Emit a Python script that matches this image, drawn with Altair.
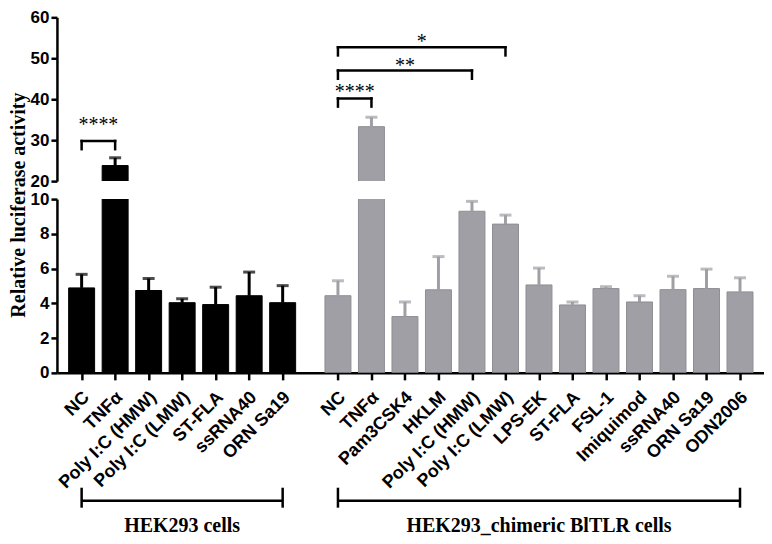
import altair as alt
import pandas as pd

# ---------------- data ----------------
hek_labels = ["NC", "TNFα", "Poly I:C (HMW)", "Poly I:C (LMW)", "ST-FLA", "ssRNA40", "ORN Sa19"]
hek_means = [4.89, 23.8, 4.74, 4.04, 3.93, 4.44, 4.04]
hek_upper = [5.67, 25.7, 5.43, 4.27, 4.93, 5.80, 5.02]

chim_labels = ["NC", "TNFα", "Pam3CSK4", "HKLM", "Poly I:C (HMW)", "Poly I:C (LMW)", "LPS-EK",
               "ST-FLA", "FSL-1", "Imiquimod", "ssRNA40", "ORN Sa19", "ODN2006"]
chim_means = [4.44, 33.3, 3.24, 4.78, 9.30, 8.56, 5.06, 3.91, 4.85, 4.08, 4.79, 4.85, 4.66]
chim_upper = [5.30, 35.6, 4.08, 6.69, 9.87, 9.08, 6.03, 4.08, 4.96, 4.44, 5.56, 5.97, 5.47]

group_names = ["HEK293 cells", "HEK293_chimeric BlTLR cells"]

# significance brackets: group, from-bar, to-bar, bracket level, stars, star level
sig_group = [0, 1, 1, 1]
sig_from = [0, 0, 0, 0]
sig_to = [1, 1, 4, 5]
sig_level = [29.8, 40.2, 47.0, 52.7]
sig_text = ["****", "****", "**", "*"]
sig_text_y = [34.4, 42.4, 48.9, 54.8]

y_title = "Relative luciferase activity"

# ---------------- layout constants ----------------
GROUP_OFFSET = [0.0, 7.65]
W = 708
H1 = 164
H2 = 174
BLACK = "#000000"
GRAY = "#a09fa5"
GRAY_EDGE = "#8f8e94"

rows = []
for g, (labs, means, ups) in enumerate([(hek_labels, hek_means, hek_upper),
                                        (chim_labels, chim_means, chim_upper)]):
    for i, (l, m, u) in enumerate(zip(labs, means, ups)):
        rows.append({"pos": GROUP_OFFSET[g] + i, "label": l, "mean": m, "upper": u,
                     "group": group_names[g]})
bars = pd.DataFrame(rows)

def gpos(g, i):
    return GROUP_OFFSET[g] + i

seg = []
stars = []
for g, a, b, lev, t, ty in zip(sig_group, sig_from, sig_to, sig_level, sig_text, sig_text_y):
    x1, x2 = gpos(g, a), gpos(g, b)
    seg.append({"pos": x1, "pos2": x2, "y": lev, "y2": lev})
    seg.append({"pos": x1, "pos2": x1, "y": lev, "y2": lev - 2.0})
    seg.append({"pos": x2, "pos2": x2, "y": lev, "y2": lev - 2.0})
    stars.append({"pos": (x1 + x2) / 2, "y": ty, "t": t})
seg = pd.DataFrame(seg)
stars = pd.DataFrame(stars)

nlab = [len(hek_labels), len(chim_labels)]
grp = pd.DataFrame([{"pos": gpos(g, 0), "pos2": gpos(g, nlab[g] - 1),
                     "mid": (gpos(g, 0) + gpos(g, nlab[g] - 1)) / 2, "name": group_names[g]}
                    for g in range(2)])
grp_ends = pd.DataFrame([{"pos": p} for p in list(grp["pos"]) + list(grp["pos2"])])

xscale = alt.Scale(domain=[-0.588, 20.217], nice=False, zero=False)
color = alt.Color("group:N", scale=alt.Scale(domain=group_names, range=[BLACK, GRAY]), legend=None)
stroke = alt.Stroke("group:N", scale=alt.Scale(domain=group_names, range=[BLACK, GRAY_EDGE]), legend=None)

axis_common = dict(grid=False, domainColor="black", tickColor="black", labelColor="black",
                   domainWidth=2.5, tickWidth=2.5, tickSize=6, labelFont="Liberation Sans",
                   labelFontWeight="bold", labelFontSize=17, labelPadding=2, title=None)

# ---------------- upper panel (20-60) ----------------
yU = alt.Scale(domain=[20, 60], nice=False, zero=False)
yU_axis = alt.Axis(values=[20, 30, 40, 50, 60], **axis_common)
xU = alt.X("pos:Q", scale=xscale, axis=None)

up_bars = alt.Chart(bars).transform_filter("datum.mean > 20").mark_bar(size=26, clip=True, strokeWidth=1).encode(
    x=xU, y=alt.Y("mean:Q", scale=yU, axis=yU_axis), color=color, stroke=stroke)
up_err = alt.Chart(bars).transform_filter("datum.mean > 20").mark_rule(strokeWidth=3).encode(
    x=xU, y=alt.Y("mean:Q", scale=yU, axis=yU_axis), y2="upper:Q", color=color)
up_cap = alt.Chart(bars).transform_filter("datum.mean > 20").mark_tick(orient="horizontal", size=12, thickness=3).encode(
    x=xU, y=alt.Y("upper:Q", scale=yU, axis=yU_axis), color=color)
up_seg = alt.Chart(seg).mark_rule(strokeWidth=2.5, color="black", strokeCap="square").encode(
    x=xU, x2="pos2:Q", y=alt.Y("y:Q", scale=yU, axis=yU_axis), y2="y2:Q")
up_txt = alt.Chart(stars).mark_text(font="Liberation Serif", fontSize=20, baseline="alphabetic",
                                    dy=9, color="black").encode(
    x=xU, y=alt.Y("y:Q", scale=yU, axis=yU_axis), text="t:N")

upper = alt.layer(up_bars, up_err, up_cap, up_seg, up_txt).properties(width=W, height=H1)

# ---------------- lower panel (0-10) ----------------
yL = alt.Scale(domain=[0, 10], nice=False, zero=False)
yL_axis = alt.Axis(values=[0, 2, 4, 6, 8, 10], **axis_common)
xL_axis = alt.Axis(values=list(bars["pos"]), labels=False, grid=False, domainColor="black",
                   tickColor="black", domainWidth=2.5, tickWidth=2.5, tickSize=7, title=None)
xL = alt.X("pos:Q", scale=xscale, axis=xL_axis)

lo_bars = alt.Chart(bars).mark_bar(size=26, clip=True, strokeWidth=1).encode(
    x=xL, y=alt.Y("mean:Q", scale=yL, axis=yL_axis), color=color, stroke=stroke)
lo_err = alt.Chart(bars).transform_filter("datum.mean < 10").mark_rule(strokeWidth=3).encode(
    x=xL, y=alt.Y("mean:Q", scale=yL, axis=yL_axis), y2="upper:Q", color=color)
lo_cap = alt.Chart(bars).transform_filter("datum.mean < 10").mark_tick(orient="horizontal", size=12, thickness=3).encode(
    x=xL, y=alt.Y("upper:Q", scale=yL, axis=yL_axis), color=color)
lo_lab = alt.Chart(bars).mark_text(font="Liberation Sans", fontWeight="bold", fontSize=18, angle=315,
                                   align="right", baseline="middle", dy=7, color="black").encode(
    x=xL, y=alt.value(H2 + 17), text="label:N")
lo_grp = alt.Chart(grp).mark_rule(strokeWidth=2.5, color="black").encode(
    x=xL, x2="pos2:Q", y=alt.value(H2 + 128))
lo_grp_end = alt.Chart(grp_ends).mark_rule(strokeWidth=2.5, color="black").encode(
    x=xL, y=alt.value(H2 + 115), y2=alt.value(H2 + 135))
lo_grp_txt = alt.Chart(grp).mark_text(font="Liberation Serif", fontWeight="bold", fontSize=20,
                                      baseline="middle", color="black").encode(
    x=alt.X("mid:Q", scale=xscale, axis=xL_axis), y=alt.value(H2 + 153), text="name:N")
lo_title = alt.Chart(pd.DataFrame({"t": [y_title]})).mark_text(
    font="Liberation Serif", fontWeight="bold", fontSize=20, angle=270, align="center",
    baseline="middle", color="black").encode(x=alt.value(-38), y=alt.value(6), text="t:N")

lower = alt.layer(lo_bars, lo_err, lo_cap, lo_lab, lo_grp, lo_grp_end, lo_grp_txt, lo_title).properties(
    width=W, height=H2)

chart = alt.vconcat(upper, lower, spacing=18, bounds="flush").properties(padding=0).configure_view(
    stroke=None).configure_axis(grid=False)

chart.save("out.html", embed_options={"renderer": "svg", "actions": False})
